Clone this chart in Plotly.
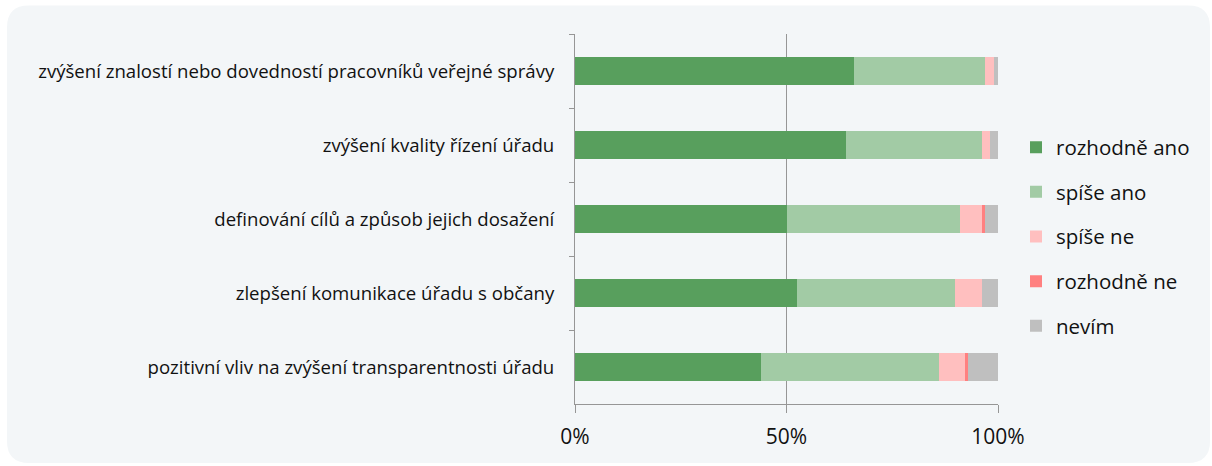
import plotly.graph_objects as go

categories = [
    "zvýšení znalostí nebo dovedností pracovníků veřejné správy",
    "zvýšení kvality řízení úřadu",
    "definování cílů a způsob jejich dosažení",
    "zlepšení komunikace úřadu s občany",
    "pozitivní vliv na zvýšení transparentnosti úřadu",
]
series_names = ["rozhodně ano", "spíše ano", "spíše ne", "rozhodně ne", "nevím"]
rozhodne_ano = [65.9, 64.0, 50.0, 52.4, 43.9]
spise_ano = [31.1, 32.1, 41.0, 37.5, 42.1]
spise_ne = [2.1, 1.9, 5.1, 6.2, 6.1]
rozhodne_ne = [0.0, 0.0, 0.9, 0.0, 0.9]
nevim = [0.9, 2.0, 3.0, 3.9, 7.0]
colors = ["#589F5D", "#A2CBA5", "#FFBFBF", "#FF8080", "#BFBFBF"]
tick_vals = [0, 0.5, 1.0]
tick_text = ["0%", "50%", "100%"]

values = [rozhodne_ano, spise_ano, spise_ne, rozhodne_ne, nevim]

FONT = "Open Sans"
W, H = 1212, 466
L, R, T, B = 575, 214, 33.5, 62
pw = W - L - R
ph = H - T - B

fig = go.Figure()
for name, vals, col in zip(series_names, values, colors):
    fig.add_trace(go.Bar(
        y=categories, x=[v / 100 for v in vals], name=name, orientation="h",
        marker=dict(color=col, line=dict(width=0)), legendgroup=name,
        hoverinfo="x+y+name",
    ))


def px_to_paper(x, y):
    return (x - L) / pw, (H - B - y) / ph


def P(x, y):
    a, b = px_to_paper(x, y)
    return f"{a:.5f},{b:.5f}"


# rounded background panel
x0p, y0p, x1p, y1p, r = 7, 5, 1210, 463, 22
path = (
    f"M{P(x0p + r, y0p)} L{P(x1p - r, y0p)} Q{P(x1p, y0p)} {P(x1p, y0p + r)} "
    f"L{P(x1p, y1p - r)} Q{P(x1p, y1p)} {P(x1p - r, y1p)} "
    f"L{P(x0p + r, y1p)} Q{P(x0p, y1p)} {P(x0p, y1p - r)} "
    f"L{P(x0p, y0p + r)} Q{P(x0p, y0p)} {P(x0p + r, y0p)} Z"
)
fig.add_shape(type="path", path=path, xref="paper", yref="paper",
              fillcolor="#F3F6F8", line=dict(width=0), layer="below")

lx, ly = px_to_paper(1016, 127)

fig.update_layout(
    width=W, height=H,
    margin=dict(l=L, r=R, t=T, b=B, pad=0),
    paper_bgcolor="white", plot_bgcolor="rgba(0,0,0,0)",
    barmode="stack", bargap=0.61,
    font=dict(family=FONT, color="#111111"),
    showlegend=True,
    legend=dict(x=lx, y=ly, xanchor="left", yanchor="top",
                traceorder="grouped", tracegroupgap=15,
                font=dict(size=20.5, family=FONT, color="#111111"),
                bgcolor="rgba(0,0,0,0)", itemwidth=30),
    xaxis=dict(range=[0, 1], tickvals=tick_vals, ticktext=tick_text,
               showgrid=True, gridcolor="#969696", gridwidth=1,
               showline=True, linecolor="#969696", linewidth=1,
               ticks="outside", ticklen=8, tickcolor="#969696",
               tickfont=dict(size=21, family=FONT, color="#111111"),
               ticklabelstandoff=6,
               zeroline=False, fixedrange=True),
    yaxis=dict(categoryorder="array", categoryarray=categories,
               autorange="reversed", tickson="boundaries",
               showline=True, linecolor="#969696", linewidth=1,
               ticks="outside", ticklen=5, tickcolor="#969696",
               showgrid=False,
               tickfont=dict(size=18.6, family=FONT, color="#111111"),
               ticklabelstandoff=16, fixedrange=True),
)

fig.write_html("out.html", config={"displayModeBar": False},
               post_script="document.body.style.margin='0';")
